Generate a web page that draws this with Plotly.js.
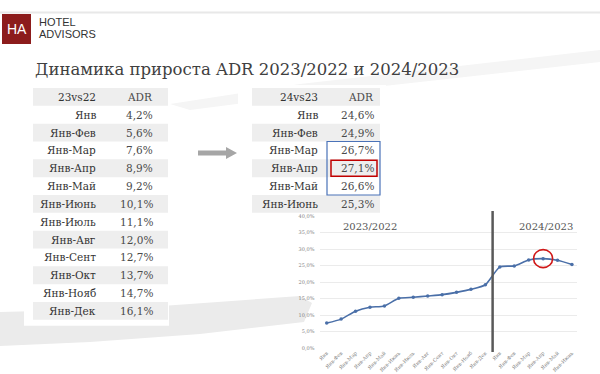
<!DOCTYPE html>
<html>
<head>
<meta charset="utf-8">
<script src="https://cdn.plot.ly/plotly-3.0.1.min.js"></script>
<style>html,body{margin:0;padding:0;background:#fff;}#chart{width:600px;height:374px;}</style>
</head>
<body>
<div id="chart"></div>
<script>
// ---------- DATA ----------
const title = "Динамика прироста ADR 2023/2022 и 2024/2023";
const head23 = ["23vs22", "ADR"];
const labels23 = ["Янв","Янв-Фев","Янв-Мар","Янв-Апр","Янв-Май","Янв-Июнь","Янв-Июль","Янв-Авг","Янв-Сент","Янв-Окт","Янв-Нояб","Янв-Дек"];
const adr23 = [4.2, 5.6, 7.6, 8.9, 9.2, 10.1, 11.1, 12.0, 12.7, 13.7, 14.7, 16.1];
const head24 = ["24vs23", "ADR"];
const labels24 = ["Янв","Янв-Фев","Янв-Мар","Янв-Апр","Янв-Май","Янв-Июнь"];
const adr24 = [24.6, 24.9, 26.7, 27.1, 26.6, 25.3];
// line chart (values as drawn in the small chart)
const chartCats = ["Янв","Янв-Фев","Янв-Мар","Янв-Апр","Янв-Май","Янв-Июнь","Янв-Июль","Янв-Авг","Янв-Сент","Янв-Окт","Янв-Нояб","Янв-Дек",
                   "Янв","Янв-Фев","Янв-Мар","Янв-Апр","Янв-Май","Янв-Июнь","Янв-Июль"];
const line2023 = [7.6, 8.8, 11.2, 12.4, 12.8, 15.1, 15.4, 15.8, 16.2, 16.9, 17.8, 19.2];
const line2024 = [24.6, 24.9, 26.7, 27.1, 26.6, 25.3];
const periodLabels = ["2023/2022", "2024/2023"];
const yTickVals = [0, 5, 10, 15, 20, 25, 30, 35, 40];
const yTickText = ["0,0%","5,0%","10,0%","15,0%","20,0%","25,0%","30,0%","35,0%","40,0%"];
const highlightBlue = ["Янв-Мар","Янв-Май"];
const highlightRed = "Янв-Апр";

// ---------- HELPERS ----------
const W = 600, H = 374;
const px = x => x / W;
const py = y => 1 - y / H;
const fmt = v => v.toFixed(1).replace('.', ',') + '%';
const SERIF = "DejaVu Serif, Liberation Serif, serif";

const shapes = [];
const annotations = [];
function txt(x, y, text, font, xanchor, xref) {
  annotations.push({xref: xref || 'paper', yref:'paper', x: x, y: y, text: text, showarrow:false,
    xanchor: xanchor || 'center', yanchor:'middle', font: font});
}

// top line
shapes.push({type:'line', xref:'paper', yref:'paper', x0:0, x1:1, y0:py(12.5), y1:py(12.5), line:{color:'#e8e8e8', width:2}, layer:'below'});
// brush strokes (decorative)
shapes.push({type:'path', xref:'paper', yref:'paper', layer:'below', fillcolor:'#ebebeb', line:{width:0},
  path:`M ${px(0)} ${py(312)} L ${px(120)} ${py(309)} L ${px(300)} ${py(296)} L ${px(312)} ${py(303)} L ${px(304)} ${py(322)} L ${px(200)} ${py(334)} L ${px(90)} ${py(342)} L ${px(0)} ${py(346)} Z`});
shapes.push({type:'path', xref:'paper', yref:'paper', layer:'below', fillcolor:'#f5f5f5', line:{width:0},
  path:`M ${px(170)} ${py(104)} L ${px(300)} ${py(84)} L ${px(600)} ${py(50)} L ${px(600)} ${py(62)} L ${px(330)} ${py(92)} L ${px(190)} ${py(110)} Z`});

// logo
shapes.push({type:'rect', xref:'paper', yref:'paper', x0:px(2), x1:px(31), y0:py(44), y1:py(14), fillcolor:'#8c1c1c', line:{width:0}});
txt(px(16.5), py(29.5), 'HA', {family:'Liberation Sans, Arial', size:14, color:'#ffffff'});
txt(px(37), py(22), 'HOTEL', {family:'Liberation Sans, Arial', size:11, color:'#333333'}, 'left');
txt(px(37), py(34), 'ADVISORS', {family:'Liberation Sans, Arial', size:11, color:'#333333'}, 'left');

// title
txt(px(33), py(70), title, {family:SERIF, size:16.5, color:'#404040'}, 'left');

// tables
function drawTable(head, labels, vals, geo) {
  const rows = [head].concat(labels.map((l, i) => [l, fmt(vals[i])]));
  shapes.push({type:'rect', xref:'paper', yref:'paper', x0:px(geo.cardX0), x1:px(geo.cardX1), y0:py(geo.y0 + rows.length*geo.rowH + geo.cardPad), y1:py(geo.y0 - 3), fillcolor:'#ffffff', line:{width:0}, layer:'below'});
  rows.forEach((r, i) => {
    const yTop = geo.y0 + i*geo.rowH;
    const yc = yTop + geo.rowH/2;
    if (i % 2 === 0) {
      shapes.push({type:'rect', xref:'paper', yref:'paper', x0:px(geo.bandX0), x1:px(geo.bandX1), y0:py(yTop+geo.rowH), y1:py(yTop), fillcolor:'#eeeeee', line:{width:0}, layer:'below'});
    }
    txt(px(geo.labelR), py(yc), r[0], {family:SERIF, size:10.5, color:'#333333'}, 'right');
    txt(px(geo.valueR), py(yc), r[1], {family:SERIF, size:10.5, color:'#4a4a4a'}, 'right');
  });
}
const geoL = {cardX0:24, cardX1:169, bandX0:33, bandX1:168, labelR:98, valueR:155, y0:88, rowH:17.83, cardPad:6};
const geoR = {cardX0:238, cardX1:386, bandX0:252, bandX1:380, labelR:320, valueR:376, y0:88, rowH:17.83, cardPad:4};
drawTable(head23, labels23, adr23, geoL);
drawTable(head24, labels24, adr24, geoR);

// highlight boxes in right table
const iB0 = labels24.indexOf(highlightBlue[0]) + 1, iB1 = labels24.indexOf(highlightBlue[1]) + 1;
shapes.push({type:'rect', xref:'paper', yref:'paper', x0:px(327), x1:px(380), y0:py(geoR.y0 + (iB1+1)*geoR.rowH), y1:py(geoR.y0 + iB0*geoR.rowH), line:{color:'#4a72b8', width:1.2}, fillcolor:'rgba(0,0,0,0)'});
const iR = labels24.indexOf(highlightRed) + 1;
shapes.push({type:'rect', xref:'paper', yref:'paper', x0:px(331), x1:px(377), y0:py(geoR.y0 + (iR+1)*geoR.rowH - 1), y1:py(geoR.y0 + iR*geoR.rowH + 1), line:{color:'#c00000', width:1.5}, fillcolor:'rgba(0,0,0,0)'});

// arrow
shapes.push({type:'path', xref:'paper', yref:'paper', fillcolor:'#a6a6a6', line:{width:0},
  path:`M ${px(198)} ${py(150.5)} L ${px(226)} ${py(150.5)} L ${px(226)} ${py(147)} L ${px(237)} ${py(153)} L ${px(226)} ${py(159)} L ${px(226)} ${py(155.5)} L ${px(198)} ${py(155.5)} Z`});

// ---------- LINE CHART ----------
const xs = chartCats.map((_, i) => i);
const yAll = line2023.concat(line2024);
const trace = {
  type:'scatter', mode:'lines+markers',
  x: xs.slice(0, yAll.length), y: yAll,
  line:{color:'#4a6fa8', width:1.6, shape:'spline', smoothing:0.6},
  marker:{color:'#4a6fa8', size:3.5},
  hoverinfo:'skip', showlegend:false, cliponaxis:false
};
const split = line2023.length - 0.5;
shapes.push({type:'line', xref:'x', yref:'paper', x0:split, x1:split, y0:py(352), y1:py(211), line:{color:'#595959', width:2.5}});
const iMax = line2024.indexOf(Math.max(...line2024));
shapes.push({type:'circle', xref:'x', yref:'y', xsizemode:'pixel', ysizemode:'pixel',
  xanchor: line2023.length + iMax, yanchor: line2024[iMax], x0:-9.5, x1:9.5, y0:-9, y1:9,
  line:{color:'#d01818', width:1.6}, fillcolor:'rgba(0,0,0,0)'});
txt(px(370), py(226), periodLabels[0], {family:SERIF, size:10, color:'#555555'});
txt(px(546), py(226), periodLabels[1], {family:SERIF, size:10, color:'#555555'});

const layout = {
  width: W, height: H,
  margin:{l:0, r:0, t:0, b:0},
  paper_bgcolor:'#ffffff', plot_bgcolor:'rgba(0,0,0,0)',
  showlegend:false,
  xaxis:{
    domain:[px(319.5), px(577)],
    range:[-0.5, 17.35],
    tickmode:'array', tickvals: xs, ticktext: chartCats,
    tickangle:-45, tickfont:{family:SERIF, size:5, color:'#7f7f7f'},
    showgrid:false, zeroline:false, showline:false, ticks:'', fixedrange:true
  },
  yaxis:{
    domain:[py(348.2), py(216)],
    range:[0, 40],
    tickmode:'array', tickvals: yTickVals, ticktext: yTickText,
    tickfont:{family:SERIF, size:5, color:'#7f7f7f'},
    showgrid:true, gridcolor:'#e6e6e6', gridwidth:0.8,
    zeroline:false, showline:false, ticks:'', ticklabelstandoff:4, fixedrange:true
  },
  shapes: shapes,
  annotations: annotations
};
Plotly.newPlot('chart', [trace], layout, {displayModeBar:false, staticPlot:true});
</script>
</body>
</html>
